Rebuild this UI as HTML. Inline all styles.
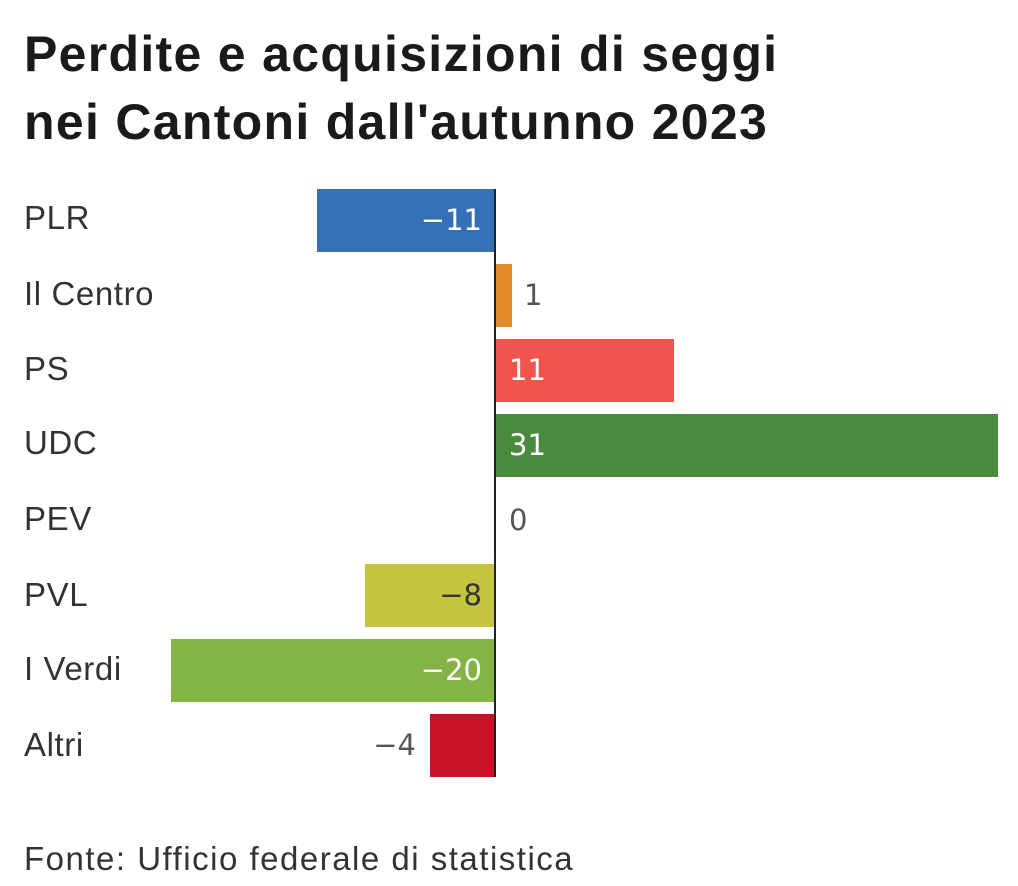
<!DOCTYPE html>
<html><head><meta charset="utf-8"><style>
body{margin:0;background:#fff;width:1018px;height:886px;overflow:hidden;position:relative;font-family:"Liberation Sans",sans-serif}
h1{position:absolute;left:24px;top:20px;margin:0;font-size:50px;line-height:68px;font-weight:bold;color:#1a1a1a;letter-spacing:1.3px;white-space:nowrap}
.l{position:absolute;left:24px;font-size:33px;color:#333;line-height:63px;letter-spacing:0.6px}
.b{position:absolute;height:63px}
.v{position:absolute;font-family:"DejaVu Sans",sans-serif;font-size:29px;line-height:63px}
.foot{position:absolute;left:24px;top:840px;font-size:33px;color:#333;letter-spacing:1.5px;white-space:nowrap}
</style></head><body>
<h1>Perdite e acquisizioni di seggi<br>nei Cantoni dall'autunno 2023</h1>

<div class="l" style="top:186px">PLR</div>
<div class="l" style="top:262px">Il Centro</div>
<div class="l" style="top:337px">PS</div>
<div class="l" style="top:411px">UDC</div>
<div class="l" style="top:487px">PEV</div>
<div class="l" style="top:563px">PVL</div>
<div class="l" style="top:637px">I Verdi</div>
<div class="l" style="top:713px">Altri</div>

<div class="b" style="top:189px;left:317px;width:178px;background:#3470b8"></div>
<div class="b" style="top:264px;left:495px;width:17px;background:#e08a2a"></div>
<div class="b" style="top:339px;left:495px;width:179px;background:#f0554d"></div>
<div class="b" style="top:414px;left:495px;width:503px;background:#4a8a3e"></div>
<div class="b" style="top:564px;left:365px;width:130px;background:#c4c43e"></div>
<div class="b" style="top:639px;left:171px;width:324px;background:#84b446"></div>
<div class="b" style="top:714px;left:430px;width:65px;background:#c81226"></div>

<div style="position:absolute;left:494px;top:189px;width:2px;height:588px;background:#222"></div>

<div class="v" style="top:189px;right:536px;color:#fff">−11</div>
<div class="v" style="top:264px;left:524px;color:#555">1</div>
<div class="v" style="top:339px;left:509px;color:#fff">11</div>
<div class="v" style="top:414px;left:509px;color:#fff">31</div>
<div class="v" style="top:489px;left:509px;color:#555">0</div>
<div class="v" style="top:564px;right:536px;color:#333">−8</div>
<div class="v" style="top:639px;right:536px;color:#fff">−20</div>
<div class="v" style="top:714px;right:602px;color:#555">−4</div>

<div class="foot">Fonte: Ufficio federale di statistica</div>
</body></html>
